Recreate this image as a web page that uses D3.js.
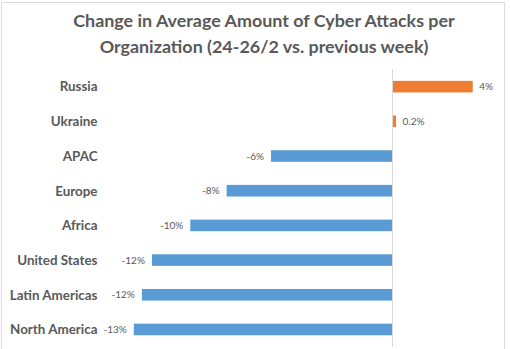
<!DOCTYPE html>
<html>
<head>
<meta charset="utf-8">
<script src="https://cdn.jsdelivr.net/npm/d3@7"></script>
<style>
  html, body { margin: 0; padding: 0; background: #fff; }
  svg { display: block; }
</style>
</head>
<body>
<svg id="chart" width="510" height="349"></svg>
<script>
const titleLines = ["Change in Average Amount of Cyber Attacks per", "Organization (24-26/2 vs. previous week)"];
const categories = ["Russia", "Ukraine", "APAC", "Europe", "Africa", "United States", "Latin Americas", "North America"];
const values = [4, 0.2, -6, -8.2, -10, -11.9, -12.4, -12.8];
const valueLabels = ["4%", "0.2%", "-6%", "-8%", "-10%", "-12%", "-12%", "-13%"];

const svg = d3.select("#chart");
const grey = "#595959";

// frame
svg.append("rect")
  .attr("x", 1.5).attr("y", 2.5).attr("width", 503).attr("height", 350)
  .attr("fill", "none").attr("stroke", "#dcdcdc").attr("stroke-width", 1);

// title
svg.append("g").selectAll("text").data(titleLines).join("text")
  .attr("x", 264)
  .attr("y", (d, i) => 27 + i * 25.5)
  .attr("text-anchor", "middle")
  .attr("font-family", "Lato, 'Open Sans', sans-serif")
  .attr("font-weight", 700)
  .attr("font-size", 17.9)
  .attr("fill", grey)
  .text(d => d);

const x = d3.scaleLinear().domain([-14, 5]).range([109.6, 492.9]);
const y = d3.scaleBand().domain(categories).range([69.3, 346.8]).paddingInner(0.666).paddingOuter(0.333);

// bars
svg.append("g").selectAll("rect").data(categories).join("rect")
  .attr("x", (d, i) => Math.min(x(0), x(values[i])))
  .attr("width", (d, i) => Math.abs(x(values[i]) - x(0)))
  .attr("y", d => y(d))
  .attr("height", y.bandwidth())
  .attr("fill", (d, i) => values[i] >= 0 ? "#ED7D31" : "#5B9BD5");

// zero axis line
svg.append("line")
  .attr("x1", x(0) + 0.5).attr("x2", x(0) + 0.5)
  .attr("y1", y.range()[0]).attr("y2", y.range()[1])
  .attr("stroke", "#d9d9d9").attr("stroke-width", 1);

// category labels
const yAxis = d3.axisLeft(y).tickSize(0).tickPadding(0);
const ga = svg.append("g").attr("transform", "translate(97.5,0)").call(yAxis);
ga.select(".domain").remove();
ga.selectAll("text")
  .attr("font-family", "Lato, 'Open Sans', sans-serif")
  .attr("font-weight", 700)
  .attr("font-size", 13.4)
  .attr("fill", grey)
  .attr("dy", "0.36em");

// value labels
svg.append("g").selectAll("text").data(categories).join("text")
  .attr("x", (d, i) => values[i] >= 0 ? x(values[i]) + 6.5 : x(values[i]) - 7)
  .attr("y", d => y(d) + y.bandwidth() / 2)
  .attr("dy", "0.35em")
  .attr("text-anchor", (d, i) => values[i] >= 0 ? "start" : "end")
  .attr("font-family", "Lato, 'Open Sans', sans-serif")
  .attr("font-size", 10)
  .attr("fill", grey)
  .text((d, i) => valueLabels[i]);
</script>
</body>
</html>
